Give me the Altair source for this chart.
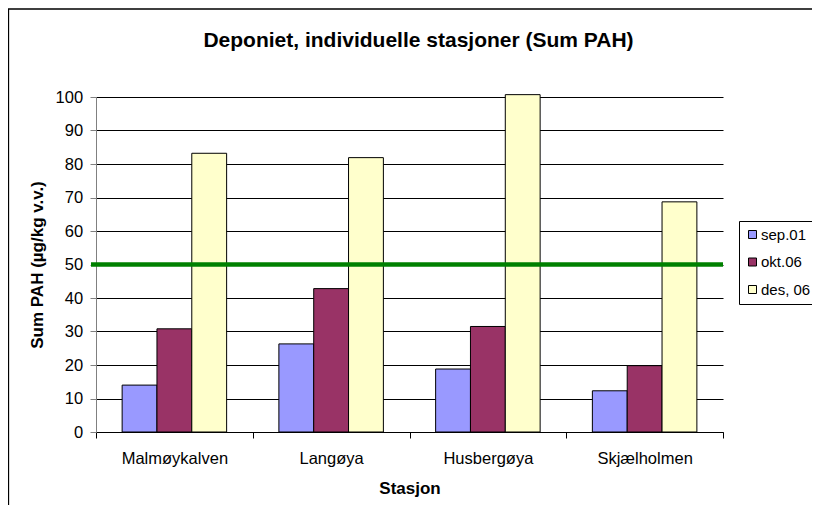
import altair as alt
import pandas as pd

stations = ["Malmøykalven", "Langøya", "Husbergøya", "Skjælholmen"]
series = ["sep.01", "okt.06", "des, 06"]
sep01 = [14.0, 26.3, 18.8, 12.3]
okt06 = [30.8, 42.8, 31.5, 19.8]
des06 = [83.2, 81.9, 100.7, 68.7]
colors = ["#9999FF", "#993366", "#FFFFCC"]
y_ticks = list(range(0, 101, 10))
limit_value = [50]
title_text = "Deponiet, individuelle stasjoner (Sum PAH)"

rows = []
for s, vals in zip(series, [sep01, okt06, des06]):
    for st, v in zip(stations, vals):
        rows.append({"Stasjon": st, "Serie": s, "Verdi": v})
df = pd.DataFrame(rows)

FONT = "Liberation Sans"
W, H = 627, 335

y_axis = alt.Axis(
    title="Sum PAH (µg/kg v.v.)",
    titleFontSize=17,
    titleFontWeight="bold",
    titleColor="black",
    titlePadding=9,
    values=y_ticks,
    labelOverlap=False,
    labelFontSize=16.5,
    labelColor="black",
    labelPadding=7.4,
    tickSize=6,
    tickColor="#808080",
    domainColor="#808080",
    grid=True,
    gridColor="black",
    gridWidth=1,
)
y_scale = alt.Scale(domain=[0, 100], nice=False)

frame = alt.Chart(alt.Data(values=[{"a": 1}])).mark_rect(
    filled=False, stroke="black", strokeWidth=1.3
).encode(
    x=alt.value(-87.5), x2=alt.value(800), y=alt.value(-88), y2=alt.value(500)
)

title = alt.Chart(alt.Data(values=[{"t": title_text}])).mark_text(
    font=FONT, fontSize=21, fontWeight="bold", color="black",
    align="center", baseline="alphabetic"
).encode(text="t:N", x=alt.value(W / 2 + 9), y=alt.value(-50))

bars = alt.Chart(df).mark_bar(stroke="black", strokeWidth=1).encode(
    x=alt.X(
        "Stasjon:N",
        sort=stations,
        scale=alt.Scale(paddingInner=0, paddingOuter=0),
        axis=alt.Axis(
            title="Stasjon",
            titleFontSize=17,
            titleFontWeight="bold",
            titleColor="black",
            titlePadding=13,
            labelFontSize=16.5,
            labelColor="black",
            labelAngle=0,
            labelPadding=12.5,
            tickSize=6,
            tickColor="black",
            domainColor="black",
            tickBand="extent",
            grid=False,
        ),
    ),
    xOffset=alt.XOffset("Serie:N", sort=series,
                        scale=alt.Scale(paddingInner=0, paddingOuter=0.75)),
    y=alt.Y("Verdi:Q", scale=y_scale, axis=y_axis),
    color=alt.Color(
        "Serie:N",
        sort=series,
        scale=alt.Scale(domain=series, range=colors),
        legend=alt.Legend(
            title=None,
            orient="none",
            legendX=643,
            legendY=124,
            strokeColor="black",
            fillColor="white",
            padding=6,
            symbolType="square",
            symbolSize=64,
            symbolStrokeColor="black",
            symbolStrokeWidth=1,
            symbolOpacity=1,
            labelFontSize=15,
            labelColor="black",
            labelOffset=1,
            rowPadding=11.5,
        ),
    ),
)

rule = alt.Chart(pd.DataFrame({"Verdi": limit_value})).mark_rule(
    color="#008000", strokeWidth=4.5
).encode(y=alt.Y("Verdi:Q", scale=y_scale, axis=y_axis), x=alt.value(-5), x2=alt.value(W))

chart = alt.layer(frame, bars, rule, title).properties(
    width=W,
    height=H,
    autosize=alt.AutoSizeParams(type="none"),
    padding={"left": 88, "top": 89, "right": 89, "bottom": 73},
).configure(background="white", font=FONT).configure_axis(
    labelOverlap=False
).configure_view(stroke="transparent")

chart.save("out.html", embed_options={"renderer": "svg", "actions": False})
